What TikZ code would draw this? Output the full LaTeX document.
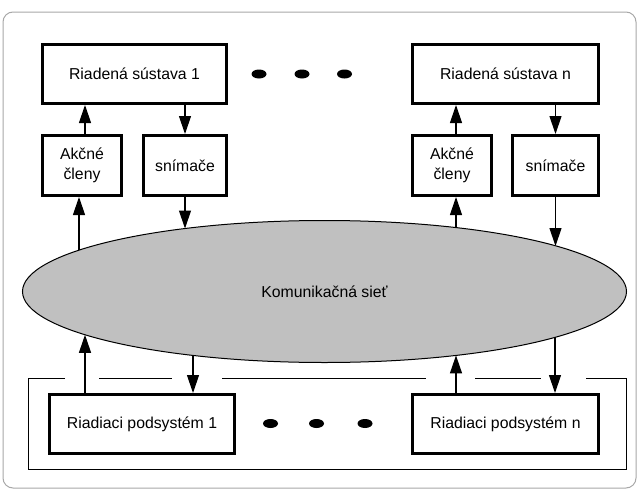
\documentclass[tikz,border=0pt]{standalone}
\usepackage{fontspec}
\setmainfont{Liberation Sans}
\usetikzlibrary{arrows.meta,shapes.geometric}

\begin{document}
\begin{tikzpicture}[x=1pt,y=-1pt,
        blok/.style={draw,line width=3pt,align=center,inner sep=0pt,
            font=\fontsize{15.8}{20}\selectfont},
        arr/.style={line width=1.2pt,-{Triangle[length=18pt,width=12pt]}},
        bodka/.style={fill=black}]
        \definecolor{sietfill}{HTML}{C0C0C0}
        \definecolor{ramec}{HTML}{A8A8A8}
        \useasboundingbox (0,0) rectangle (638,493);
        \draw[ramec,line width=1pt,rounded corners=10pt] (3,12) rectangle (636,488);
        % riadene sustavy
        \node[blok,minimum width=184pt,minimum height=59pt] (rs1) at (134.5,74) {Riadená sústava 1};
        \node[blok,minimum width=186pt,minimum height=59pt] (rsn) at (505.5,74) {Riadená sústava n};
        \node[blok,minimum width=79pt,minimum height=60pt] (ak1) at (82,165.5) {Akčné\\členy};
        \node[blok,minimum width=83pt,minimum height=60pt] (sn1) at (185,165.5) {snímače};
        \node[blok,minimum width=79pt,minimum height=60pt] (akn) at (452,165.5) {Akčné\\členy};
        \node[blok,minimum width=86pt,minimum height=60pt] (snn) at (555.5,165.5) {snímače};
        \foreach \x in {259,302,344.5} {
            \fill[bodka] (\x,74) ellipse (7.5 and 4.5);
        }
        % siet
        \node[ellipse,draw,fill=sietfill,line width=1pt,minimum width=604pt,minimum height=142pt,
            font=\fontsize{15.8}{19}\selectfont] (siet) at (324.5,291.5) {Komunikačná sieť};
        \coordinate (t1) at (79,250);
        \coordinate (t2) at (185,228.5);
        \coordinate (t3) at (456,227.6);
        \coordinate (t4) at (555.5,246);
        \coordinate (b1) at (85,334.8);
        \coordinate (b2) at (193,355.4);
        \coordinate (b3) at (456,355.4);
        \coordinate (b4) at (555,337.4);
        % riadiace podsystemy
        \draw[line width=1pt] (65,378.5) -- (28,378.5) -- (28,469) -- (626,469) -- (626,378.5) -- (586,378.5);
        \foreach \a/\b in {99/172,222/426,475/541} {
            \draw[line width=1pt] (\a,378.5) -- (\b,378.5);
        }
        \node[blok,minimum width=185pt,minimum height=59pt,fill=white] (rp1) at (142,424) {Riadiaci podsystém 1};
        \node[blok,minimum width=186pt,minimum height=59pt,fill=white] (rpn) at (505.5,424) {Riadiaci podsystém n};
        \foreach \x in {270.5,316.5,365} {
            \fill[bodka] (\x,423.5) ellipse (7.5 and 4.5);
        }
        % spojenia
        \draw[arr] ([xshift=3pt]ak1.north) -- ([xshift=3pt]ak1.north |- rs1.south);
        \draw[arr] (sn1.north |- rs1.south) -- (sn1.north);
        \draw[arr] (t1) -- (t1 |- ak1.south);
        \draw[arr] (sn1.south) -- (t2);
        \draw[arr] ([xshift=4pt]akn.north) -- ([xshift=4pt]akn.north |- rsn.south);
        \draw[arr] (snn.north |- rsn.south) -- (snn.north);
        \draw[arr] (t3) -- (t3 |- akn.south);
        \draw[arr] (snn.south) -- (t4);
        \draw[arr] (rp1.north -| b1) -- (b1);
        \draw[arr] (b2) -- (b2 |- rp1.north);
        \draw[arr] (rpn.north -| b3) -- (b3);
        \draw[arr] (b4) -- (b4 |- rpn.north);
    \end{tikzpicture}
\end{document}
